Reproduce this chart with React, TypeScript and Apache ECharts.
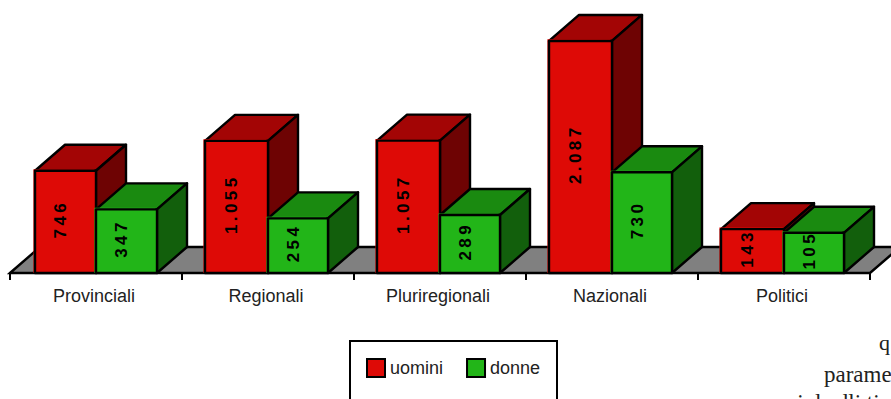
import React, { useEffect, useRef } from "react";
import * as echarts from "echarts";

const categories = ["Provinciali", "Regionali", "Pluriregionali", "Nazionali", "Politici"];
const uomini = [746, 1055, 1057, 2087, 143];
const donne = [347, 254, 289, 730, 105];
const labelsUomini = ["746", "1.055", "1.057", "2.087", "143"];
const labelsDonne = ["347", "254", "289", "730", "105"];
const tickPositions = [0, 1, 2, 3, 4, 5];

const DX = 30;
const DY = -26;
const LW = 2.4;
const STROKE = "#000000";

const shades = {
  red: { front: "#DE0A06", top: "#A30505", side: "#6E0303" },
  green: { front: "#22B518", top: "#1A8A10", side: "#125F0C" },
};

function barRenderer(which: "red" | "green", labels: string[]) {
  const c = shades[which];
  return (params: any, api: any) => {
    const idx = api.value(0);
    const val = api.value(1);
    const base = api.coord([idx, 0]);
    const band = api.size([1, 0])[0];
    const bandStart = base[0] - band / 2;
    const left = which === "red" ? bandStart + (idx === 0 ? 25 : 23) : bandStart + 86;
    const right = which === "red" ? bandStart + 86 : bandStart + (idx === 0 ? 147 : 146);
    const bottom = params.coordSys.y + params.coordSys.height;
    const top = api.coord([idx, val])[1];
    const poly = (pts: number[][], fill: string) => ({
      type: "polygon",
      shape: { points: pts },
      style: { fill, stroke: STROKE, lineWidth: LW, lineJoin: "round" },
    });
    return {
      type: "group",
      children: [
        poly([[left, top], [left + DX, top + DY], [right + DX, top + DY], [right, top]], c.top),
        poly([[right, top], [right + DX, top + DY], [right + DX, bottom + DY], [right, bottom]], c.side),
        { type: "rect", shape: { x: left - 1.6, y: top - 1.6, width: right - left, height: bottom - top + 1.6 }, style: { fill: c.front } },
        poly([[left, top], [right, top], [right, bottom], [left, bottom]], c.front),
        {
          type: "text",
          x: (left + right) / 2 - 5,
          y: (top + bottom) / 2 - 1,
          rotation: Math.PI / 2,
          style: {
            text: labels[params.dataIndex].split("").join("\u2009"),
            font: 'bold 17px "Liberation Sans", Arial, sans-serif',
            fill: "#000000",
            align: "center",
            verticalAlign: "middle",
          },
        },
      ],
    };
  };
}

function floorRenderer(params: any, api: any) {
  const cs = params.coordSys;
  const l = cs.x;
  const r = cs.x + cs.width;
  const b = cs.y + cs.height;
  return {
    type: "polygon",
    shape: { points: [[l, b], [l + DX, b + DY], [r + DX, b + DY], [r, b]] },
    style: { fill: "#808080", stroke: STROKE, lineWidth: LW },
  };
}

function tickRenderer(params: any, api: any) {
  const cs = params.coordSys;
  const band = cs.width / categories.length;
  const i = api.value(0);
  const x = cs.x + i * band;
  const b = cs.y + cs.height;
  return {
    type: "line",
    shape: { x1: x, y1: b, x2: x, y2: b + 7 },
    style: { stroke: STROKE, lineWidth: 2 },
  };
}

export default function App() {
  const ref = useRef<HTMLDivElement>(null);
  useEffect(() => {
    const chart = echarts.init(ref.current!, null, { renderer: "svg" });
    const serif = '"Liberation Serif", serif';
    chart.setOption({
      animation: false,
      backgroundColor: "#ffffff",
      grid: { left: 10, right: 21, top: 11.6, bottom: 126, containLabel: false },
      xAxis: {
        type: "category",
        data: categories,
        axisLine: { show: true, onZero: false, lineStyle: { color: "#000", width: 2 } },
        axisTick: { show: false },
        axisLabel: { color: "#222", fontSize: 18, fontFamily: "Liberation Sans", margin: 14, padding: [0, 4, 0, 0] },
      },
      yAxis: { type: "value", min: -310, max: 2390, show: false },
      legend: {
        left: 361,
        top: 353,
        itemWidth: 18,
        itemHeight: 18,
        itemGap: 23,
        icon: "rect",
        textStyle: { color: "#222", fontSize: 18, fontFamily: "Liberation Sans" },
        data: ["uomini", "donne"],
      },
      series: [
        { type: "custom", name: "floor", data: [[0, 0]], renderItem: floorRenderer, clip: false, silent: true, z: 1 },
        { type: "custom", name: "ticks", data: tickPositions.map((t) => [t, 0]), renderItem: tickRenderer, clip: false, silent: true, z: 1 },
        {
          type: "custom",
          name: "uomini",
          data: uomini.map((v, i) => [i, v]),
          renderItem: barRenderer("red", labelsUomini),
          clip: false,
          itemStyle: { color: shades.red.front, borderColor: "#000", borderWidth: 2 },
          z: 2,
        },
        {
          type: "custom",
          name: "donne",
          data: donne.map((v, i) => [i, v]),
          renderItem: barRenderer("green", labelsDonne),
          clip: false,
          itemStyle: { color: shades.green.front, borderColor: "#000", borderWidth: 2 },
          z: 3,
        },
      ],
      graphic: [
        { type: "rect", shape: { x: 350, y: 341, width: 207, height: 70 }, style: { fill: "none", stroke: "#000", lineWidth: 2 }, z: 0 },
        { type: "text", x: 879, y: 331, style: { text: "q", font: `22px ${serif}`, fill: "#222" } },
        { type: "text", x: 824, y: 363, style: { text: "parame", font: `23px ${serif}`, fill: "#222" } },
        { type: "text", x: 787, y: 391, style: { text: "ci da dli ti", font: `23px ${serif}`, fill: "#222" } },
      ],
    });
    return () => chart.dispose();
  }, []);
  return <div ref={ref} style={{ position: "fixed", left: 0, top: 0, width: 891, height: 399 }} />;
}
